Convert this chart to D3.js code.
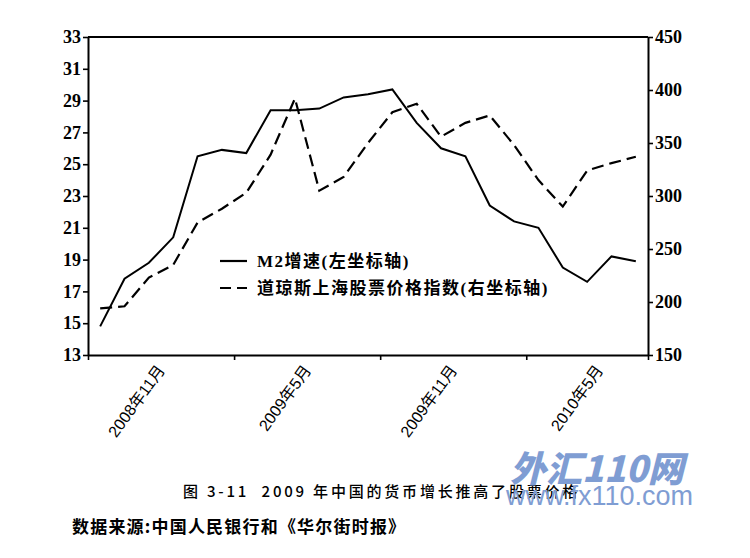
<!doctype html>
<html>
<head>
  <meta charset="utf-8">
  <style>
    body { margin: 0; background: #fff; }
    svg { display: block; }
  </style>
  <script src="https://d3js.org/d3.v7.min.js"></script>
</head>
<body>
  <script type="text/javascript">
    // months on the category axis (Aug 2008 - Jun 2010)
    var months = [
      "2008年8月", "2008年9月", "2008年10月", "2008年11月", "2008年12月",
      "2009年1月", "2009年2月", "2009年3月", "2009年4月", "2009年5月",
      "2009年6月", "2009年7月", "2009年8月", "2009年9月", "2009年10月",
      "2009年11月", "2009年12月", "2010年1月", "2010年2月", "2010年3月",
      "2010年4月", "2010年5月", "2010年6月"
    ];
    // M2 growth, % (left axis)
    var m2 = [14.8, 17.8, 18.8, 20.4, 25.5, 25.9, 25.7, 28.4, 28.4, 28.5, 29.2, 29.4,
              29.7, 27.6, 26.0, 25.5, 22.4, 21.4, 21.0, 18.5, 17.6, 19.2, 18.9];
    // Dow Jones Shanghai index (right axis)
    var djsh = [194, 196, 223, 235, 275, 288, 303, 339, 392, 305, 318, 350,
                379, 387, 356, 369, 376, 348, 315, 290, 324, 331, 337];
    var labelMonths = ["2008年11月", "2009年5月", "2009年11月", "2010年5月"];
    var leftTicks = [13, 15, 17, 19, 21, 23, 25, 27, 29, 31, 33];
    var rightTicks = [150, 200, 250, 300, 350, 400, 450];
    var legendNames = ["M2增速(左坐标轴)", "道琼斯上海股票价格指数(右坐标轴)"];

    (function() {
      var svg = d3.select("body").append("svg")
        .attr("width", 750)
        .attr("height", 558);

      var pl = 88, pr = 648, pt = 37, pb = 355;

      var x = d3.scaleBand().domain(months).range([pl, pr]);
      var xi = d3.scaleLinear().domain([0, months.length]).range([pl, pr]);
      var yL = d3.scaleLinear().domain([13, 33]).range([pb, pt]);
      var yR = d3.scaleLinear().domain([150, 450]).range([pb, pt]);
      var cx = function(m) { return x(m) + x.bandwidth() / 2; };

      var numFont = '"Liberation Serif", "Times New Roman", serif';
      var cjkFont = '"Noto Sans CJK SC", sans-serif';

      // frame top
      svg.append("line")
        .attr("x1", pl).attr("x2", pr)
        .attr("y1", pt).attr("y2", pt)
        .attr("stroke", "#000").attr("stroke-width", 2);

      var gl = svg.append("g")
        .attr("transform", "translate(" + pl + ",0)")
        .call(d3.axisLeft(yL).tickValues(leftTicks).tickSize(5).tickSizeOuter(0).tickPadding(2));
      var gr = svg.append("g")
        .attr("transform", "translate(" + pr + ",0)")
        .call(d3.axisRight(yR).tickValues(rightTicks).tickSize(5).tickSizeOuter(0).tickPadding(2));
      var gb = svg.append("g")
        .attr("transform", "translate(0," + pb + ")")
        .call(d3.axisBottom(xi).tickValues([0, 6, 12, 18, 23]).tickFormat("").tickSize(5).tickSizeOuter(0));

      [gl, gr, gb].forEach(function(g) {
        g.select(".domain").attr("stroke-width", 2);
        g.selectAll(".tick line").attr("stroke-width", 1.6);
        g.selectAll(".tick text")
          .attr("fill", "#000")
          .style("font-family", numFont)
          .style("font-weight", "bold")
          .style("font-size", "18px");
      });

      // rotated month labels
      svg.append("g").selectAll("text")
        .data(labelMonths)
        .join("text")
          .attr("transform", function(d) { return "translate(" + (cx(d) - 12) + "," + (pb + 12) + ") rotate(-54)"; })
          .attr("text-anchor", "end")
          .attr("dy", "0.35em")
          .style("font-family", '"Liberation Sans", Arial, "Noto Sans CJK SC", sans-serif')
          .style("font-size", "16px")
          .text(function(d) { return d; });

      // series
      var lineM2 = d3.line()
        .x(function(d, i) { return cx(months[i]); })
        .y(function(d) { return yL(d); });
      var lineDj = d3.line()
        .x(function(d, i) { return cx(months[i]); })
        .y(function(d) { return yR(d); });

      svg.append("path")
        .datum(m2)
        .attr("d", lineM2)
        .attr("fill", "none")
        .attr("stroke", "#000")
        .attr("stroke-width", 2);

      svg.append("path")
        .datum(djsh)
        .attr("d", lineDj)
        .attr("fill", "none")
        .attr("stroke", "#000")
        .attr("stroke-width", 2.2)
        .attr("stroke-dasharray", "12,6");

      // legend
      var legend = svg.append("g").attr("transform", "translate(220,261)");
      legendNames.forEach(function(name, i) {
        var row = legend.append("g").attr("transform", "translate(0," + (i * 27) + ")");
        row.append("line")
          .attr("x1", 0).attr("x2", 27)
          .attr("stroke", "#000")
          .attr("stroke-width", 2.2)
          .attr("stroke-dasharray", i === 1 ? "11,6" : null);
        row.append("text")
          .attr("x", 37)
          .attr("dy", "0.35em")
          .style("font-family", numFont + ', "Noto Sans CJK SC"')
          .style("font-weight", "bold")
          .style("font-size", "17px")
          .style("letter-spacing", "1.5px")
          .text(name);
      });

      // caption and source
      svg.append("text")
        .attr("x", 183)
        .attr("y", 497)
        .style("font-family", cjkFont)
        .style("font-weight", "500")
        .style("font-size", "15px")
        .style("letter-spacing", "2.8px")
        .attr("xml:space", "preserve")
        .text("图 3-11  2009 年中国的货币增长推高了股票价格");

      svg.append("text")
        .attr("x", 72)
        .attr("y", 533)
        .style("font-family", cjkFont)
        .style("font-weight", "bold")
        .style("font-size", "17px")
        .style("letter-spacing", "1.2px")
        .text("数据来源:中国人民银行和《华尔街时报》");

      // watermark
      svg.append("text")
        .attr("x", 510)
        .attr("y", 482)
        .attr("fill", "#7f9dd3")
        .style("font-family", cjkFont)
        .style("font-weight", "900")
        .style("font-style", "italic")
        .style("font-size", "36px")
        .text("外汇110网");
      svg.append("text")
        .attr("x", 506)
        .attr("y", 505)
        .attr("fill", "#7f9dd3")
        .style("font-family", '"Liberation Sans", Arial, sans-serif')
        .style("font-size", "27px")
        .text("www.fx110.com");
    })();
  </script>
</body>
</html>
